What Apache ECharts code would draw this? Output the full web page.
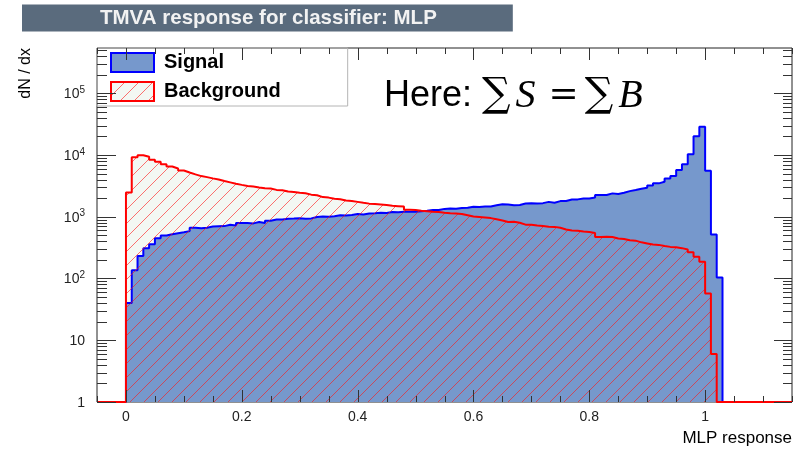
<!DOCTYPE html>
<html>
<head>
<meta charset="utf-8">
<title>TMVA response for classifier: MLP</title>
<script src="https://cdn.jsdelivr.net/npm/echarts@6/dist/echarts.min.js"></script>
<style>
  html, body { margin: 0; padding: 0; background: #ffffff; }
  #chart { width: 805px; height: 453px; }
</style>
</head>
<body>
<div id="chart"></div>
<script>
// Histogram binning: 0.01 wide bins starting at an MLP response of 0
const binStart = 0;
const binWidth = 0.01;

// Entries per bin (dN/dx), signal sample
const signalCounts = [
  40, 136, 232, 310, 360, 450, 495, 520, 540, 560,
  585, 665, 650, 665, 695, 700, 705, 740, 720, 790,
  790, 780, 820, 790, 860, 900, 905, 930, 935, 945,
  930, 940, 990, 1010, 1000, 1020, 1060, 1050, 1070, 1110,
  1090, 1130, 1140, 1160, 1150, 1190, 1180, 1200, 1210, 1200,
  1230, 1250, 1280, 1290, 1340, 1360, 1350, 1380, 1400, 1450,
  1440, 1460, 1470, 1540, 1590, 1580, 1540, 1550, 1640, 1650,
  1640, 1660, 1740, 1690, 1790, 1800, 1900, 1910, 1970, 1980,
  2050, 2240, 2250, 2390, 2330, 2440, 2600, 2700, 2830, 2940,
  3210, 3470, 3680, 4180, 4550, 5690, 7110, 10300, 20200, 28600,
  5540, 517, 104
];

// Entries per bin (dN/dx), background sample
const backgroundCounts = [
  2480, 9150, 9900, 9350, 8400, 7750, 7100, 6500, 6050, 5600,
  5200, 4850, 4550, 4380, 4180, 4020, 3780, 3600, 3420, 3280,
  3150, 3080, 2980, 2900, 2860, 2720, 2690, 2560, 2520, 2450,
  2400, 2280, 2230, 2080, 2040, 1950, 1920, 1830, 1800, 1740,
  1680, 1630, 1610, 1580, 1550, 1500, 1480, 1460, 1300, 1280,
  1250, 1230, 1200, 1190, 1160, 1140, 1130, 1110, 1060, 1010,
  990, 970, 950, 910, 870, 820, 830, 800, 745, 740,
  720, 705, 690, 685, 665, 620, 600, 595, 575, 565,
  545, 470, 475, 470, 445, 435, 415, 410, 385, 370,
  355, 350, 335, 325, 320, 310, 295, 265, 225, 186,
  57, 6
];

// Axis ranges and tick labels
const xRange = [-0.05, 1.15];
const yRange = [1, 540000];
const xTickLabels = [0, 0.2, 0.4, 0.6, 0.8, 1];
const yTickLabels = [1, 10, 100, 1000, 10000, 100000];

const FONT = '"Liberation Sans", Arial, Helvetica, sans-serif';
const TICK_COLOR = '#333333';

// Minor ticks: every 0.05 on x, 2..9 x 10^k on y
const xMinorTicks = [];
for (let k = -1; k <= 23; k++) {
  const v = +(k * 0.05).toFixed(2);
  if (!xTickLabels.includes(v)) xMinorTicks.push(v);
}
const yMinorTicks = [];
for (let p = 1; p <= yRange[1]; p *= 10) {
  for (let m = 2; m <= 9; m++) {
    if (m * p <= yRange[1]) yMinorTicks.push(m * p);
  }
}

// Step outline points: left bin edge with the bin content; empty range sits on the axis floor
function stepPoints(counts) {
  const pts = [[xRange[0], yRange[0]]];
  counts.forEach((c, i) => pts.push([+(binStart + i * binWidth).toFixed(4), c]));
  pts.push([+(binStart + counts.length * binWidth).toFixed(4), yRange[0]]);
  pts.push([xRange[1], yRange[0]]);
  return pts;
}

// "/" hatch tile for the background fill
function hatchTile(bg) {
  const s = 14;
  const c = document.createElement('canvas');
  c.width = s; c.height = s;
  const g = c.getContext('2d');
  if (bg) { g.fillStyle = bg; g.fillRect(0, 0, s, s); }
  g.strokeStyle = 'rgba(255, 20, 20, 0.6)';
  g.lineWidth = 1;
  g.beginPath();
  [-s, 0, s].forEach(o => { g.moveTo(o, s); g.lineTo(o + s, 0); });
  g.stroke();
  return c;
}

const sigPts = stepPoints(signalCounts);
const bkgPts = stepPoints(backgroundCounts);

const chart = echarts.init(document.getElementById('chart'), null, { renderer: 'canvas' });

chart.setOption({
  animation: false,
  backgroundColor: '#ffffff',
  textStyle: { fontFamily: FONT },
  title: {
    text: 'TMVA response for classifier: MLP',
    left: 22, top: 5,
    backgroundColor: '#5a6b7d',
    padding: [3, 76, 3, 78],
    textStyle: { color: '#f2f2f2', fontSize: 20.5, fontWeight: 'bold', fontFamily: FONT, lineHeight: 20 }
  },
  legend: {
    orient: 'vertical', left: 97, top: 48,
    padding: [4, 67, 4, 13],
    itemGap: 8, itemWidth: 43, itemHeight: 19,
    borderColor: '#b4b4b4', borderWidth: 1,
    selectedMode: false,
    textStyle: { fontFamily: FONT, fontSize: 20, fontWeight: 'bold', color: '#000', padding: [0, 0, 0, 5] },
    data: [
      { name: 'Signal', icon: 'rect',
        itemStyle: { color: '#7698cc', borderColor: '#0000ff', borderWidth: 2 } },
      { name: 'Background', icon: 'rect',
        itemStyle: { color: { image: hatchTile('#f3f8f3'), repeat: 'repeat' }, borderColor: '#ff0000', borderWidth: 2 } }
    ]
  },
  grid: {
    left: 97, right: 13, top: 48, bottom: 51,
    show: true, borderColor: '#222', borderWidth: 1, backgroundColor: 'transparent'
  },
  xAxis: {
    type: 'value', min: xRange[0], max: xRange[1],
    axisLine: { show: false, onZero: false },
    splitLine: { show: false },
    axisTick: { show: false },
    axisLabel: { show: true, customValues: xTickLabels, margin: 8, fontSize: 14, color: '#222', fontFamily: FONT },
    name: 'MLP response', nameLocation: 'end', nameGap: 0,
    nameTextStyle: { fontFamily: FONT, fontSize: 17, color: '#000', align: 'right',
                     verticalAlign: 'top', padding: [28, 0, 0, 0] }
  },
  yAxis: {
    type: 'log', logBase: 10, min: yRange[0], max: yRange[1],
    axisLine: { show: false, onZero: false },
    splitLine: { show: false },
    axisTick: { show: false },
    axisLabel: {
      show: true, customValues: yTickLabels, margin: 12, fontFamily: FONT, color: '#222',
      formatter: v => {
        const e = Math.round(Math.log10(v));
        if (e === 0) return '{b|1}';
        if (e === 1) return '{b|10}';
        return '{b|10}{e|' + e + '}';
      },
      rich: {
        b: { fontSize: 14, fontFamily: FONT, color: '#222', verticalAlign: 'bottom', lineHeight: 16 },
        e: { fontSize: 10, fontFamily: FONT, color: '#222', verticalAlign: 'top', lineHeight: 16, padding: [0, 0, 9, 0] }
      }
    }
  },
  series: [
    {
      name: 'Background area', type: 'line', step: 'end', data: bkgPts,
      symbol: 'none', silent: true,
      lineStyle: { width: 0, opacity: 0 },
      areaStyle: { color: '#f3f8f3', opacity: 1, origin: 'start' },
      z: 1
    },
    {
      name: 'Signal', type: 'line', step: 'end', data: sigPts,
      symbol: 'none', silent: true,
      itemStyle: { color: '#7698cc' },
      lineStyle: { color: '#0000ff', width: 2 },
      areaStyle: { color: '#7698cc', opacity: 1, origin: 'start' },
      z: 2
    },
    {
      name: 'Background', type: 'line', step: 'end', data: bkgPts,
      symbol: 'none', silent: true,
      itemStyle: { color: '#ff0000' },
      lineStyle: { color: '#ff0000', width: 2 },
      areaStyle: { color: { image: hatchTile(null), repeat: 'repeat' }, opacity: 1, origin: 'start' },
      z: 3
    }
  ]
});

// Axis titles, the sum annotation and the frame tick marks (placed through the grid's data-to-pixel mapping)
(function addGraphics() {
  const toPx = pt => chart.convertToPixel({ gridIndex: 0 }, pt);
  const [left, bottom] = toPx([xRange[0], yRange[0]]);
  const [right, top] = toPx([xRange[1], yRange[1]]);
  const els = [
    {
      id: 'ytitle', type: 'text', x: 26, y: 48, rotation: Math.PI / 2,
      style: { text: 'dN / dx', fontFamily: FONT, fontSize: 16, fontWeight: 'normal', fill: '#000',
               align: 'right', verticalAlign: 'middle' }
    },
    {
      id: 'formula', type: 'text', x: 384, y: 76,
      style: {
        text: '{t|Here: }{op|∑}{v|S}{eq|=}{op|∑}{v|B}',
        rich: {
          t: { fontFamily: FONT, fontSize: 36, fill: '#000' },
          op: { fontFamily: '"DejaVu Serif", serif', fontSize: 40, fill: '#000' },
          v: { fontFamily: '"Liberation Serif", serif', fontStyle: 'italic', fontSize: 40, fill: '#000', padding: [0, 0, 0, 5] },
          eq: { fontFamily: '"DejaVu Serif", serif', fontSize: 36, fill: '#000', padding: [0, 6, 0, 13] }
        }
      }
    }
  ];
  let n = 0;
  const bar = (x, y, w, h) => {
    els.push({
      id: 'tick' + (n++), type: 'rect', silent: true, z: 50,
      shape: { x, y, width: w, height: h },
      style: { fill: TICK_COLOR }
    });
  };
  yTickLabels.map(v => [v, true]).concat(yMinorTicks.map(v => [v, false])).forEach(([v, major]) => {
    const y = Math.round(toPx([xRange[0], v])[1]);
    const l = major ? 19 : 10, r = major ? 18 : 9;
    bar(left, y, l, 1);
    bar(right - r, y, r, 1);
  });
  xTickLabels.map(v => [v, true]).concat(xMinorTicks.map(v => [v, false])).forEach(([v, major]) => {
    const x = Math.round(toPx([v, yRange[0]])[0]);
    const len = major ? 12 : 6;
    bar(x, bottom - len, 1, len);
    bar(x, top, 1, len);
  });
  chart.setOption({ graphic: { elements: els } });
})();
</script>
</body>
</html>
